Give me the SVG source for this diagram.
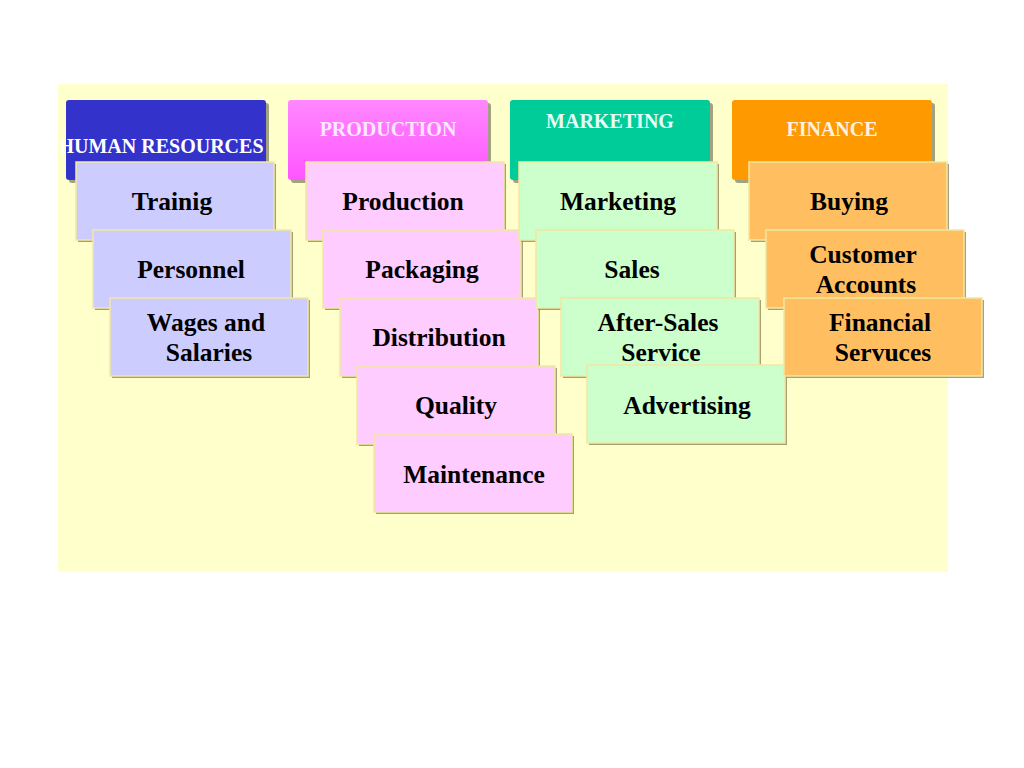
<svg xmlns="http://www.w3.org/2000/svg" width="1024" height="768" viewBox="0 0 1024 768">
<defs>
<style>
.hd{stroke:none}
.hsh{fill:#555544;opacity:0.55}
.bx{stroke:#F2E8A0;stroke-width:1.5}
.sh{fill:#8F8A60;opacity:0.8}
.ht{font-family:"Liberation Serif",serif;font-weight:bold;font-size:20px;text-anchor:middle}
.t{font-family:"Liberation Serif",serif;font-weight:bold;font-size:25.5px;text-anchor:middle;fill:#000}
.hr{fill:#CCCCFF}.pr{fill:#FFCCFF}.mk{fill:#CCFFCC}.fi{fill:#FFBF60}
</style>
<linearGradient id="gp" x1="0" y1="0" x2="0" y2="1"><stop offset="0" stop-color="#FF88FF"/><stop offset="1" stop-color="#FF55FF"/></linearGradient>
<clipPath id="chr"><rect x="62" y="100" width="204" height="80"/></clipPath>
</defs>
<rect width="1024" height="768" fill="#FFFFFF"/>
<rect x="58" y="84" width="890" height="488" fill="#FFFFCC"/>

<g id="hdr-hr">
<rect class="hsh" x="69" y="103" width="200" height="80" rx="3"/>
<rect class="hd" x="66" y="100" width="200" height="80" rx="3" fill="#3333CC"/>
<text class="ht" x="161" y="153" fill="#FFFFFF" clip-path="url(#chr)">HUMAN RESOURCES</text>
</g>
<g id="hdr-prod">
<rect class="hsh" x="291" y="103" width="200" height="80" rx="3"/>
<rect class="hd" x="288" y="100" width="200" height="80" rx="3" fill="url(#gp)"/>
<text class="ht" x="388" y="136" fill="#FFE6FF">PRODUCTION</text>
</g>
<g id="hdr-mkt">
<rect class="hsh" x="513" y="103" width="200" height="80" rx="3"/>
<rect class="hd" x="510" y="100" width="200" height="80" rx="3" fill="#00CC99"/>
<text class="ht" x="610" y="128" fill="#E6FFF6">MARKETING</text>
</g>
<g id="hdr-fin">
<rect class="hsh" x="735" y="103" width="200" height="80" rx="3"/>
<rect class="hd" x="732" y="100" width="200" height="80" rx="3" fill="#FF9900"/>
<text class="ht" x="832" y="136" fill="#FFF2E0">FINANCE</text>
</g>

<g id="n-trainig"><rect class="sh" x="78" y="164" width="198" height="78"/><rect class="bx hr" x="76" y="162" width="198" height="78"/><text class="t" x="172" y="210">Trainig</text></g>
<g id="n-personnel"><rect class="sh" x="95" y="232" width="198" height="78"/><rect class="bx hr" x="93" y="230" width="198" height="78"/><text class="t" x="191" y="278">Personnel</text></g>
<g id="n-wages"><rect class="sh" x="112" y="300" width="198" height="78"/><rect class="bx hr" x="110" y="298" width="198" height="78"/><text class="t" x="206" y="331">Wages and</text><text class="t" x="209" y="361">Salaries</text></g>

<g id="n-production"><rect class="sh" x="308" y="164" width="198" height="78"/><rect class="bx pr" x="306" y="162" width="198" height="78"/><text class="t" x="403" y="210">Production</text></g>
<g id="n-packaging"><rect class="sh" x="325" y="232" width="198" height="78"/><rect class="bx pr" x="323" y="230" width="198" height="78"/><text class="t" x="422" y="278">Packaging</text></g>
<g id="n-distribution"><rect class="sh" x="342" y="300" width="198" height="78"/><rect class="bx pr" x="340" y="298" width="198" height="78"/><text class="t" x="439" y="346">Distribution</text></g>
<g id="n-quality"><rect class="sh" x="359" y="368" width="198" height="78"/><rect class="bx pr" x="357" y="366" width="198" height="78"/><text class="t" x="456" y="414">Quality</text></g>
<g id="n-maintenance"><rect class="sh" x="376" y="436" width="198" height="78"/><rect class="bx pr" x="374" y="434" width="198" height="78"/><text class="t" x="474" y="483">Maintenance</text></g>

<g id="n-marketing"><rect class="sh" x="521" y="164" width="198" height="78"/><rect class="bx mk" x="519" y="162" width="198" height="78"/><text class="t" x="618" y="210">Marketing</text></g>
<g id="n-sales"><rect class="sh" x="538" y="232" width="198" height="78"/><rect class="bx mk" x="536" y="230" width="198" height="78"/><text class="t" x="632" y="278">Sales</text></g>
<g id="n-aftersales"><rect class="sh" x="563" y="300" width="198" height="78"/><rect class="bx mk" x="561" y="298" width="198" height="78"/><text class="t" x="658" y="331">After-Sales</text><text class="t" x="661" y="361">Service</text></g>
<g id="n-advertising"><rect class="sh" x="589" y="367" width="198" height="78"/><rect class="bx mk" x="587" y="365" width="198" height="78"/><text class="t" x="687" y="414">Advertising</text></g>

<g id="n-buying"><rect class="sh" x="751" y="164" width="198" height="78"/><rect class="bx fi" x="749" y="162" width="198" height="78"/><text class="t" x="849" y="210">Buying</text></g>
<g id="n-customer"><rect class="sh" x="768" y="232" width="198" height="78"/><rect class="bx fi" x="766" y="230" width="198" height="78"/><text class="t" x="863" y="263">Customer</text><text class="t" x="866" y="293">Accounts</text></g>
<g id="n-financial"><rect class="sh" x="786" y="300" width="198" height="78"/><rect class="bx fi" x="784" y="298" width="198" height="78"/><text class="t" x="880" y="331">Financial</text><text class="t" x="883" y="361">Servuces</text></g>

<g id="connectors"/>
</svg>
